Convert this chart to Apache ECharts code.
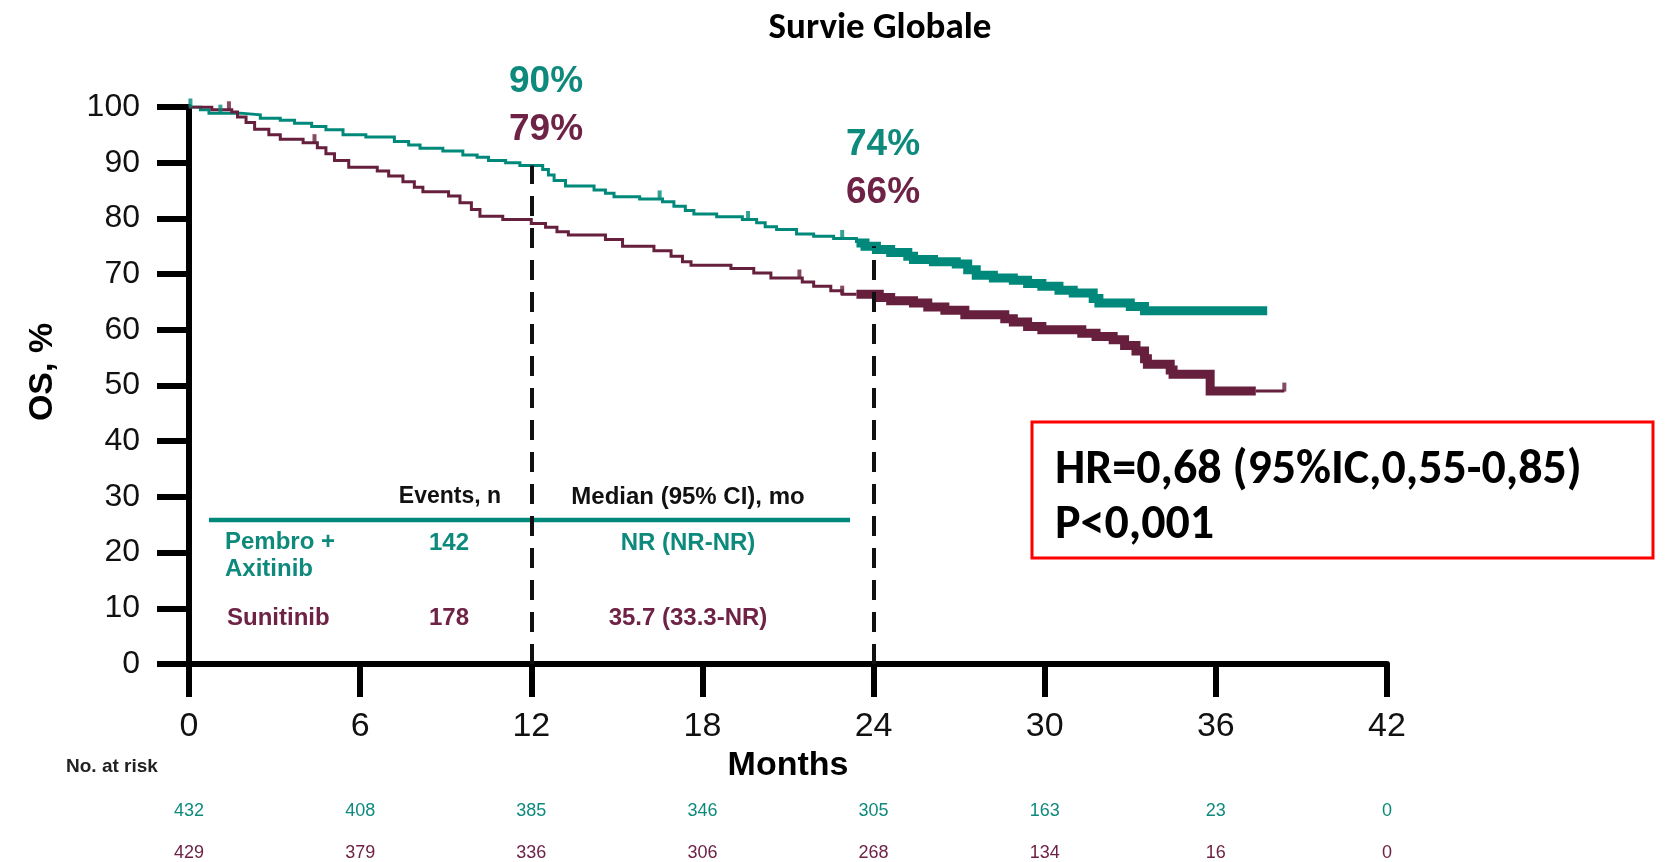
<!DOCTYPE html>
<html>
<head>
<meta charset="utf-8">
<script src="https://cdn.jsdelivr.net/npm/echarts@6/dist/echarts.min.js"></script>
<style>
html,body{margin:0;padding:0;background:#fff;}
#chart{width:1665px;height:862px;}
</style>
</head>
<body>
<div id="chart"></div>
<script>
// ---- data ----
const pembroOS = [[0,100],[0.4,99.5],[0.7,98.9],[1.8,98.6],[2.5,98.0],[3.2,97.6],[3.7,97.1],[4.3,96.5],[4.8,95.9],[5.4,95.0],[6.2,94.6],[7.2,93.8],[7.7,93.2],[8.1,92.6],[8.9,92.1],[9.6,91.4],[10.1,91.0],[10.5,90.4],[11.1,90.0],[11.6,89.5],[12.4,88.8],[12.6,87.8],[12.8,86.8],[13.2,85.8],[14.2,85.1],[14.6,84.5],[14.9,83.9],[15.8,83.5],[16.6,83.0],[17.0,82.2],[17.4,81.4],[17.7,80.8],[18.5,80.3],[19.4,79.8],[19.9,79.2],[20.2,78.5],[20.6,78.0],[21.3,77.2],[21.9,76.8],[22.6,76.4],[23.4,75.6],[23.7,75.0],[24.1,74.4],[24.6,73.9],[25.2,73.2],[25.4,72.6],[26.1,72.2],[26.9,71.8],[27.3,70.8],[27.6,69.8],[28.2,69.3],[28.9,68.9],[29.4,68.3],[29.9,67.8],[30.5,67.1],[31.0,66.6],[31.7,65.6],[31.9,64.8],[33.0,64.2],[33.5,63.4],[37.8,63.4]];
const sunitOS = [[0,100],[0.8,99.5],[1.5,99.1],[1.7,98.2],[2.0,97.2],[2.3,96.0],[2.8,95.0],[3.2,94.2],[4.0,93.6],[4.5,92.7],[4.8,91.6],[5.1,90.4],[5.6,89.2],[6.6,88.5],[7.0,87.6],[7.5,86.6],[7.9,85.6],[8.2,84.8],[9.1,84.0],[9.5,82.8],[9.9,81.6],[10.2,80.4],[11.0,79.8],[12.0,79.1],[12.5,78.4],[12.9,77.6],[13.3,77.0],[14.6,76.2],[15.2,75.0],[16.3,74.2],[16.9,73.2],[17.3,72.2],[17.6,71.6],[19.0,71.0],[19.8,70.2],[20.4,69.3],[21.5,68.6],[21.9,67.8],[22.5,67.0],[22.9,66.4],[24.2,65.8],[24.6,65.2],[25.4,64.8],[25.9,64.1],[26.5,63.5],[27.2,62.7],[28.6,62.0],[28.9,61.4],[29.4,60.6],[29.9,60.0],[31.3,59.4],[31.8,58.8],[32.4,58.2],[32.8,57.2],[33.2,56.2],[33.5,54.8],[33.6,53.8],[34.4,52.8],[34.5,52.0],[35.8,49.0],[38.4,49.0]];
const pembroCensor = [[0.05,100],[1.1,98.9],[16.5,83.5],[19.6,79.8],[22.9,76.4]];
const sunitCensor = [[1.4,99.5],[4.4,93.6],[21.4,69.3],[22.9,66.4],[38.4,49.0]];
const landmarkMonths = [12, 24];
const pembroLandmark = [90, 74];
const sunitLandmark = [79, 66];
const pembroRisk = [432,408,385,346,305,163,23,0];
const sunitRisk = [429,379,336,306,268,134,16,0];
const armNames = ['Pembro +\nAxitinib', 'Sunitinib'];
const armEvents = [142, 178];
const armMedians = ['NR (NR-NR)', '35.7 (33.3-NR)'];

const TEAL = '#00897A', MAROON = '#661F3D';
const TEAL_T = '#0E8A7C', MAROON_T = '#6E2245';
const AX = 'Liberation Sans, Arial, sans-serif';
const CAL = 'Carlito, Calibri, Lato, sans-serif';

function stepAt(data, t){ let v = data[0][1]; for (const p of data){ if (p[0] <= t) v = p[1]; else break; } return v; }
function slice(data, a, b){
  const out = [[a, stepAt(data, a)]];
  data.forEach(p => { if (p[0] > a && p[0] < b) out.push(p); });
  out.push([b, stepAt(data, b)]);
  return out;
}
const pEnd = pembroOS[pembroOS.length-1][0];
const sEnd = sunitOS[sunitOS.length-1][0];

function kmLine(data, color, width){
  return { type:'line', step:'end', data, symbol:'none', silent:true,
    lineStyle:{ color, width, join:'miter', cap:'butt' }, z:3 };
}

const chart = echarts.init(document.getElementById('chart'), null, {renderer:'canvas'});
const riskAxis = (arr, color, offset) => ({
  type:'value', gridIndex:0, position:'bottom', offset, min:0, max:42, interval:6,
  axisLine:{show:false}, axisTick:{show:false}, splitLine:{show:false},
  axisLabel:{ color, fontSize:18, fontFamily:AX, margin:5, formatter: v => String(arr[Math.round(v/6)]) }
});

chart.setOption({
  animation:false,
  backgroundColor:'#fff',
  title:{ text:'Survie Globale', left:875, top:5, textAlign:'center',
    textStyle:{ fontFamily:CAL, fontSize:37, fontWeight:'bold', color:'#000' } },
  grid:{ left:189, top:107, width:1198, height:557 },
  xAxis:[{
    type:'value', min:0, max:42, interval:6,
    axisLine:{ show:true, lineStyle:{ color:'#000', width:6 } },
    axisTick:{ show:true, length:33, lineStyle:{ color:'#000', width:6 } },
    axisLabel:{ fontSize:34, margin:46, color:'#111', fontFamily:AX },
    splitLine:{ show:false },
    name:'Months', nameLocation:'middle', nameGap:79,
    nameTextStyle:{ fontSize:34, fontWeight:'bold', color:'#000', fontFamily:AX }
  }, riskAxis(pembroRisk, TEAL_T, 133), riskAxis(sunitRisk, MAROON_T, 175)],
  yAxis:{
    type:'value', min:0, max:100, interval:10,
    axisLine:{ show:true, lineStyle:{ color:'#000', width:6 } },
    axisTick:{ show:true, length:32, lineStyle:{ color:'#000', width:6 } },
    axisLabel:{ fontSize:32, margin:49, color:'#111', fontFamily:AX },
    splitLine:{ show:false }
  },
  series:[
    Object.assign(kmLine(slice(pembroOS, 0, 23.4), TEAL, 3), {
      markLine:{ silent:true, symbol:['none','none'], label:{show:false},
        lineStyle:{ color:'#111', width:4, type:[20,12] },
        data: landmarkMonths.map(m => [{coord:[m,0]},{coord:[m, stepAt(pembroOS, m)]}]) }
    }),
    kmLine(slice(pembroOS, 23.4, pEnd), TEAL, 9),
    kmLine(slice(sunitOS, 0, 23.4), MAROON, 3),
    kmLine(slice(sunitOS, 23.4, 37.4), MAROON, 9),
    kmLine(slice(sunitOS, 37.4, sEnd), MAROON, 3),
    { type:'scatter', data:pembroCensor, symbol:'rect', symbolSize:[4,9], symbolOffset:[0,-4], silent:true,
      itemStyle:{ color:TEAL }, z:4 },
    { type:'scatter', data:sunitCensor, symbol:'rect', symbolSize:[4,9], symbolOffset:[0,-4], silent:true,
      itemStyle:{ color:MAROON }, z:4 }
  ],
  graphic:[
    { type:'text', x:43, y:372, rotation:Math.PI/2,
      style:{ text:'OS, %', font:'bold 34px '+AX, fill:'#000', textAlign:'center', textVerticalAlign:'middle' } },
    { type:'text', x:546, y:82, style:{ text:pembroLandmark[0]+'%', font:'bold 37px '+AX, fill:TEAL_T, textAlign:'center', textVerticalAlign:'middle' } },
    { type:'text', x:546, y:130, style:{ text:sunitLandmark[0]+'%', font:'bold 37px '+AX, fill:MAROON_T, textAlign:'center', textVerticalAlign:'middle' } },
    { type:'text', x:883, y:145, style:{ text:pembroLandmark[1]+'%', font:'bold 37px '+AX, fill:TEAL_T, textAlign:'center', textVerticalAlign:'middle' } },
    { type:'text', x:883, y:193, style:{ text:sunitLandmark[1]+'%', font:'bold 37px '+AX, fill:MAROON_T, textAlign:'center', textVerticalAlign:'middle' } },
    { type:'text', x:450, y:497, style:{ text:'Events, n', font:'bold 23px '+AX, fill:'#111', textAlign:'center', textVerticalAlign:'middle' } },
    { type:'text', x:688, y:497, style:{ text:'Median (95% CI), mo', font:'bold 24px '+AX, fill:'#111', textAlign:'center', textVerticalAlign:'middle' } },
    { type:'line', shape:{ x1:209, y1:520, x2:850, y2:520 }, style:{ stroke:TEAL, lineWidth:4.5 } },
    { type:'text', x:225, y:556, style:{ text:armNames[0], font:'bold 24px '+AX, fill:TEAL_T, textAlign:'left', textVerticalAlign:'middle', lineHeight:27 } },
    { type:'text', x:449, y:543, style:{ text:String(armEvents[0]), font:'bold 24px '+AX, fill:TEAL_T, textAlign:'center', textVerticalAlign:'middle' } },
    { type:'text', x:688, y:543, style:{ text:armMedians[0], font:'bold 24px '+AX, fill:TEAL_T, textAlign:'center', textVerticalAlign:'middle' } },
    { type:'text', x:227, y:618, style:{ text:armNames[1], font:'bold 24px '+AX, fill:MAROON_T, textAlign:'left', textVerticalAlign:'middle' } },
    { type:'text', x:449, y:618, style:{ text:String(armEvents[1]), font:'bold 24px '+AX, fill:MAROON_T, textAlign:'center', textVerticalAlign:'middle' } },
    { type:'text', x:688, y:618, style:{ text:armMedians[1], font:'bold 24px '+AX, fill:MAROON_T, textAlign:'center', textVerticalAlign:'middle' } },
    { type:'rect', shape:{ x:1032, y:422, width:621, height:136 }, style:{ fill:'#fff', stroke:'#FF0000', lineWidth:3 } },
    { type:'text', x:1055, y:471, style:{ text:'HR=0,68 (95%IC,0,55-0,85)', font:'bold 48px '+CAL, fill:'#000', textAlign:'left', textVerticalAlign:'middle' } },
    { type:'text', x:1055, y:526, style:{ text:'P<0,001', font:'bold 48px '+CAL, fill:'#000', textAlign:'left', textVerticalAlign:'middle' } },
    { type:'text', x:66, y:767, style:{ text:'No. at risk', font:'bold 19px '+AX, fill:'#222', textAlign:'left', textVerticalAlign:'middle' } }
  ]
});
</script>
</body>
</html>
